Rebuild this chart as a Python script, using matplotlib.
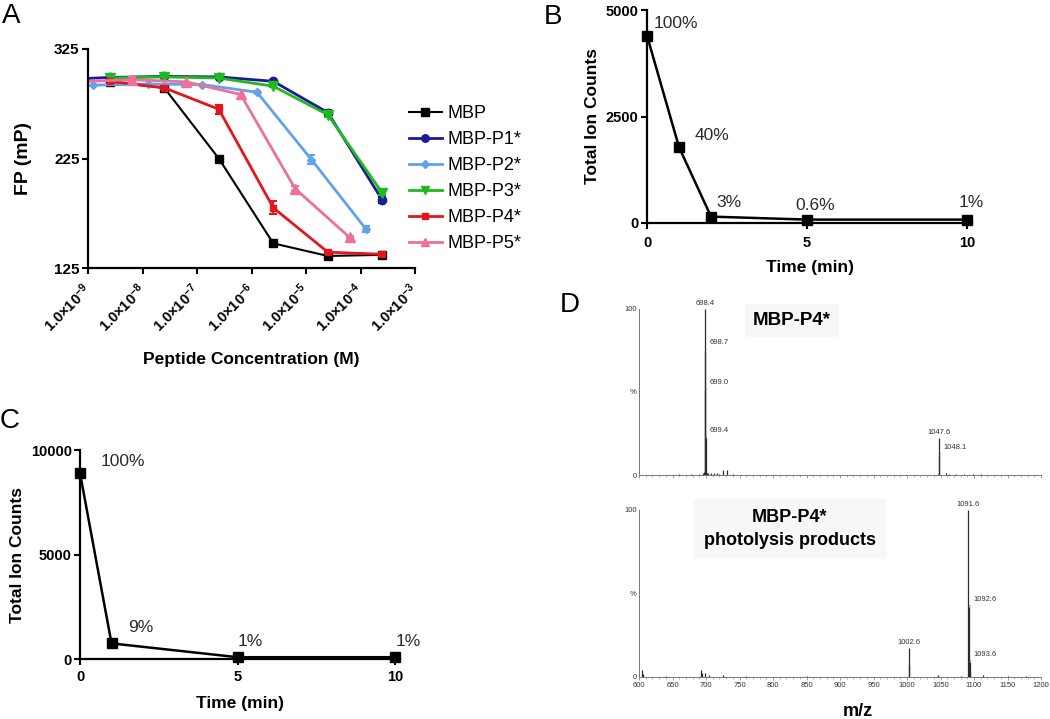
import numpy as np
import matplotlib
matplotlib.use('Agg')
import matplotlib.pyplot as plt
from matplotlib.ticker import MultipleLocator, FixedLocator

plt.rcParams['font.family'] = ['Liberation Sans', 'DejaVu Sans']
plt.rcParams['mathtext.fontset'] = 'custom'
plt.rcParams['mathtext.rm'] = 'Liberation Sans'
plt.rcParams['mathtext.bf'] = 'Liberation Sans:bold'
plt.rcParams['mathtext.it'] = 'Liberation Sans:italic'

# ---------------- Panel A data (log10 of peptide concentration, FP in mP)
series_names = ['MBP', 'MBP-P1*', 'MBP-P2*', 'MBP-P3*', 'MBP-P4*', 'MBP-P5*']
mbp_logc = [-8.6, -7.6, -6.6, -5.6, -4.6, -3.6]
mbp_fp = [295, 289.5, 225, 147.5, 136, 137]
mbp_err = [0, 0, 0, 0, 0, 0]
p1_logc = [-9.6, -8.6, -7.6, -6.6, -5.6, -4.6, -3.6]
p1_fp = [297, 299, 300, 299.5, 295.5, 267, 187]
p1_err = [0, 0, 0, 0, 1, 2, 3]
p2_logc = [-8.9, -7.9, -6.9, -5.9, -4.9, -3.9]
p2_fp = [292, 293, 292.5, 285.5, 224, 160.5]
p2_err = [0, 0, 0, 1, 4, 2.5]
p3_logc = [-8.6, -7.6, -6.6, -5.6, -4.6, -3.6]
p3_fp = [298.5, 299.5, 298.5, 291, 265, 193.5]
p3_err = [0, 0, 0, 1, 2, 2]
p4_logc = [-8.6, -7.6, -6.6, -5.6, -4.6, -3.6]
p4_fp = [295.5, 289.5, 270, 180, 139.5, 137.5]
p4_err = [0, 1, 4, 6, 1, 1.5]
p5_logc = [-9.2, -8.2, -7.2, -6.2, -5.2, -4.2]
p5_fp = [295, 297, 295, 283.5, 197.5, 153]
p5_err = [0, 2, 0, 0, 2.5, 1]
a_xtick_exp = [-9, -8, -7, -6, -5, -4, -3]
a_yticks = [125, 225, 325]

# ---------------- Panel B data
b_time = [0, 1, 2, 5, 10]
b_counts = [4400, 1780, 150, 80, 80]
b_labels = ['100%', '40%', '3%', '0.6%', '1%']

# ---------------- Panel C data
c_time = [0, 1, 5, 10]
c_counts = [8900, 760, 100, 100]
c_labels = ['100%', '9%', '1%', '1%']

# ---------------- Panel D data (m/z, relative intensity %)
top_mz = [659, 678, 690, 695, 697.5, 698.4, 698.7, 699.0, 699.4, 701, 703.7, 708, 712, 716,
          720, 726, 731, 740, 1045.6, 1047.6, 1048.1, 1058, 1062, 1073, 1085, 1098, 1110]
top_int = [0.4, 0.5, 0.6, 1.0, 2.0, 100, 75, 51, 22, 1.2, 1.5, 1.0, 1.2, 1.5,
           0.6, 3.0, 3.2, 0.5, 0.8, 22, 12, 1.5, 0.8, 0.6, 0.5, 0.5, 0.4]
top_labels = {698.4: '698.4', 698.7: '698.7', 699.0: '699.0', 699.4: '699.4',
              1047.6: '1047.6', 1048.1: '1048.1'}
bot_mz = [605, 606, 640, 693, 694, 699, 704, 726, 760, 850, 1002.6, 1003.6, 1047, 1080,
          1091.6, 1092.6, 1093.6, 1094.6, 1114, 1150, 1178]
bot_int = [4.0, 1.5, 0.5, 4.0, 2.0, 2.0, 1.0, 0.8, 0.3, 0.3, 17, 7, 1.2, 0.5,
           100, 42, 9, 3, 0.8, 0.4, 0.7]
bot_labels = {1002.6: '1002.6', 1091.6: '1091.6', 1092.6: '1092.6', 1093.6: '1093.6'}

W, H = 1050, 719
fig = plt.figure(figsize=(W / 100, H / 100), dpi=100)


def rect(x0, y0, x1, y1):
    return [x0 / W, 1 - y1 / H, (x1 - x0) / W, (y1 - y0) / H]


def prism_axes(ax):
    for s in ['top', 'right']:
        ax.spines[s].set_visible(False)
    for s in ['left', 'bottom']:
        ax.spines[s].set_linewidth(1.6)
    ax.tick_params(direction='out', length=4.5, width=1.5, labelsize=10.5, pad=1.5)
    for t in ax.get_xticklabels() + ax.get_yticklabels():
        t.set_fontweight('bold')


# ================= Panel A
axA = fig.add_axes(rect(88, 49, 415, 268))
colors = ['#000000', '#1a1a9a', '#62a2ea', '#1fba1f', '#e4161c', '#ef6f9b']
markers = ['s', 'o', 'D', 'v', 's', '^']
msizes = [6, 6, 4.5, 7, 5, 7]
data = [(mbp_logc, mbp_fp, mbp_err), (p1_logc, p1_fp, p1_err), (p2_logc, p2_fp, p2_err),
        (p3_logc, p3_fp, p3_err), (p4_logc, p4_fp, p4_err), (p5_logc, p5_fp, p5_err)]
for (lc, fp, er), name, c, m, ms in zip(data, series_names, colors, markers, msizes):
    x = 10.0 ** np.array(lc)
    y = np.array(fp, dtype=float)
    e = np.array(er, dtype=float)
    lw = 1.5 if name == 'MBP' else 2.0
    axA.plot(x, y, color=c, marker=m, ms=ms, lw=lw, label=name, mec=c)
    sel = e > 0
    if sel.any():
        axA.errorbar(x[sel], y[sel], yerr=e[sel], fmt='none', ecolor=c, elinewidth=1.5,
                     capsize=3, capthick=1.5)
axA.set_xscale('log')
axA.set_xlim(1e-9, 1e-3)
axA.set_ylim(125, 325)
axA.set_yticks(a_yticks)
axA.xaxis.set_major_locator(FixedLocator([10.0 ** e for e in a_xtick_exp]))
axA.xaxis.set_minor_locator(FixedLocator([]))
axA.set_xticklabels([r'$\mathbf{1.0{\times}10^{%d}}$' % e for e in a_xtick_exp])
prism_axes(axA)
axA.tick_params(axis='y', labelsize=11)
for t in axA.get_xticklabels():
    t.set_rotation(45)
    t.set_ha('right')
    t.set_va('center')
    t.set_rotation_mode('anchor')
    t.set_fontsize(10.5)
axA.tick_params(axis='x', pad=9)
axA.set_ylabel('FP (mP)', fontsize=14, fontweight='bold', labelpad=16)
axA.set_xlabel('Peptide Concentration (M)', fontsize=12.5, fontweight='bold', labelpad=12)
axA.legend(loc='upper left', bbox_to_anchor=(409 / W, 1 - 105 / H), bbox_transform=fig.transFigure,
           frameon=False, fontsize=13, handlelength=1.8, handletextpad=0.35, labelspacing=0.5,
           borderaxespad=0, borderpad=0, markerscale=0.9)

# ================= Panel B
axB = fig.add_axes(rect(647, 10, 972, 223))
axB.plot(b_time, b_counts, color='black', marker='s', ms=6.5, lw=1.8, clip_on=False, zorder=5)
axB.set_xlim(0, 10.15)
axB.set_ylim(0, 5000)
axB.set_xticks([0, 5, 10])
axB.set_yticks([0, 2500, 5000])
prism_axes(axB)
axB.tick_params(axis='x', pad=5)
axB.set_ylabel('Total Ion Counts', fontsize=12.5, fontweight='bold', labelpad=4)
axB.set_xlabel('Time (min)', fontsize=12.5, fontweight='bold', labelpad=7)
b_offsets = [(5, 3, 'left'), (11, 3, 'left'), (4, 5, 'left'), (6, 5, 'center'), (3, 7, 'center')]
for t, v, lab, (dx, dy, ha) in zip(b_time, b_counts, b_labels, b_offsets):
    axB.annotate(lab, (t, v), xytext=(dx, dy), textcoords='offset points', ha=ha, va='bottom',
                 fontsize=12.5, color='#2a2a2a')

# ================= Panel C
axC = fig.add_axes(rect(80, 450, 400, 659.3))
axC.plot(c_time, c_counts, color='black', marker='s', ms=6.5, lw=1.8, clip_on=False, zorder=5)
axC.set_xlim(0, 10.15)
axC.set_ylim(0, 10000)
axC.set_xticks([0, 5, 10])
axC.set_yticks([0, 5000, 10000])
prism_axes(axC)
axC.tick_params(axis='x', pad=3.5)
axC.set_ylabel('Total Ion Counts', fontsize=12.5, fontweight='bold', labelpad=4)
axC.set_xlabel('Time (min)', fontsize=12.5, fontweight='bold', labelpad=8)
c_offsets = [(15, 3, 'left'), (12, 6, 'left'), (0, 6, 'left'), (0, 6, 'left')]
for t, v, lab, (dx, dy, ha) in zip(c_time, c_counts, c_labels, c_offsets):
    axC.annotate(lab, (t, v), xytext=(dx, dy), textcoords='offset points', ha=ha, va='bottom',
                 fontsize=12.5, color='#2a2a2a')

# ================= Panel D
def spectrum(ax, mz, inten, labels, show_xlabels):
    ax.vlines(mz, 0, inten, color='#2b2b2b', lw=0.9)
    ax.set_xlim(600, 1200)
    ax.set_ylim(0, 100)
    for s in ['top', 'right']:
        ax.spines[s].set_visible(False)
    for s in ['left', 'bottom']:
        ax.spines[s].set_linewidth(0.7)
        ax.spines[s].set_color('#777777')
    ax.xaxis.set_major_locator(MultipleLocator(50))
    ax.xaxis.set_minor_locator(MultipleLocator(10))
    ax.set_yticks([0, 50, 100])
    ax.set_yticklabels(['0', '%', '100'])
    ax.tick_params(axis='both', which='major', direction='out', length=2.5, width=0.5,
                   color='#777777', labelsize=5.5, pad=1.5, labelcolor='#333333')
    ax.tick_params(axis='x', which='minor', direction='out', length=1.5, width=0.4, color='#777777')
    ax.tick_params(axis='y', length=0)
    if not show_xlabels:
        ax.tick_params(axis='x', labelbottom=False)
    mz_arr = list(mz)
    for key, lab in labels.items():
        h = inten[mz_arr.index(key)]
        if h >= 99 or key in (1047.6, 1002.6):
            ax.annotate(lab, (key, h), xytext=(0, 1.5), textcoords='offset points',
                        ha='center', va='bottom', fontsize=5.5, color='#333333')
        else:
            ax.annotate(lab, (key, h), xytext=(3, 3), textcoords='offset points',
                        ha='left', va='bottom', fontsize=5.5, color='#333333',
                        arrowprops=dict(arrowstyle='-', lw=0.5, color='#666666',
                                        shrinkA=0, shrinkB=0, relpos=(0, 0)))


axD1 = fig.add_axes(rect(639, 309, 1041, 475))
spectrum(axD1, top_mz, top_int, top_labels, False)
axD1.text(0.38, 0.93, 'MBP-P4*', transform=axD1.transAxes, ha='center', va='center',
          fontsize=13.5, fontweight='bold',
          bbox=dict(facecolor='#f7f7f7', edgecolor='none', pad=6))

axD2 = fig.add_axes(rect(639, 510, 1041, 676.7))
spectrum(axD2, bot_mz, bot_int, bot_labels, True)
axD2.text(0.375, 0.885, 'MBP-P4*\nphotolysis products', transform=axD2.transAxes,
          ha='center', va='center', fontsize=13, fontweight='bold', linespacing=1.45,
          bbox=dict(facecolor='#f7f7f7', edgecolor='none', pad=7))
fig.text(858 / W, 1 - 712 / H, 'm/z', ha='center', va='center', fontsize=13, fontweight='bold')

# ================= Panel letters
for lab, (x, y) in zip(['A', 'B', 'C', 'D'], [(2, 3), (544, 4), (0, 408), (560, 292)]):
    fig.text(x / W, 1 - y / H, lab, ha='left', va='top', fontsize=20)

fig.savefig('out.png', dpi=100)
